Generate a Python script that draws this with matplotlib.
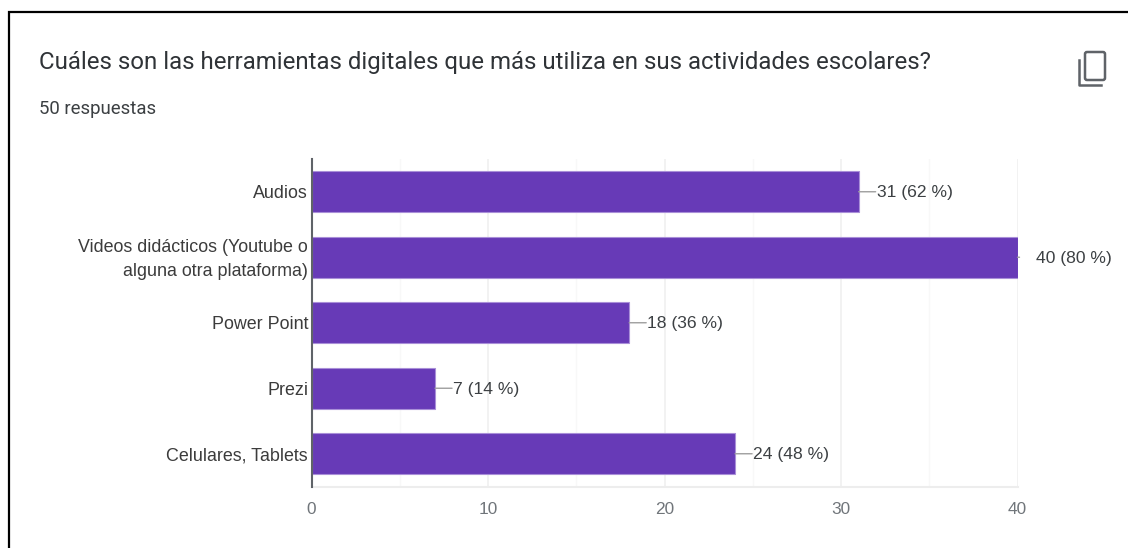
import matplotlib
matplotlib.use("Agg")
import matplotlib.pyplot as plt
from matplotlib.patches import FancyBboxPatch
from matplotlib.lines import Line2D
from matplotlib.transforms import ScaledTranslation

categories = ["Audios", "Videos didácticos (Youtube o\nalguna otra plataforma)", "Power Point", "Prezi", "Celulares, Tablets"]
values = [31, 40, 18, 7, 24]
value_labels = ["31 (62 %)", "40 (80 %)", "18 (36 %)", "7 (14 %)", "24 (48 %)"]
major_ticks = [0, 10, 20, 30, 40]
minor_ticks = [5, 15, 25, 35]
title = "Cuáles son las herramientas digitales que más utiliza en sus actividades escolares?"
subtitle = "50 respuestas"

W, H = 1128, 548
fig = plt.figure(figsize=(W / 100, H / 100), dpi=100, facecolor="white")
ax = fig.add_axes([311.5 / W, 1 - 486.5 / H, (1017.5 - 311.5) / W, (486.5 - 159) / H])

y = list(range(len(categories)))
ax.barh(y, values, height=0.62, color="#673ab7", edgecolor="#a98fd8", linewidth=0.8, zorder=3)
ax.set_xlim(0, 40)
ax.set_ylim(len(categories) - 0.5, -0.5)
ax.set_xticks(major_ticks)
ax.set_xticks(minor_ticks, minor=True)
ax.set_yticks(y, categories, ha="right", multialignment="right", fontsize=12.9, color="#3c3c3c",
              family="Liberation Sans", linespacing=1.52)
ax.tick_params(axis="both", which="both", length=0)
ax.tick_params(axis="y", pad=2.5)
ax.tick_params(axis="x", pad=11.5, labelsize=12.4, labelcolor="#70757a")
for t in ax.get_xticklabels():
    t.set_family("Liberation Sans")
# nudge the two-line label up to where the reference has it
two_line = ax.get_yticklabels()[1]
two_line.set_transform(two_line.get_transform() + ScaledTranslation(0, 3 / 100, fig.dpi_scale_trans))
ax.grid(axis="x", which="major", color="#f0f0f0", linewidth=1.2, zorder=0)
ax.grid(axis="x", which="minor", color="#f8f8f8", linewidth=1.0, zorder=0)
for side in ["top", "right"]:
    ax.spines[side].set_visible(False)
ax.spines["bottom"].set_color("#ededed")
ax.spines["bottom"].set_linewidth(1.5)
ax.spines["left"].set_color("#5f6368")
ax.spines["left"].set_linewidth(1.5)
ax.spines["left"].set_zorder(5)

for i, (v, lab) in enumerate(zip(values, value_labels)):
    length = 2 if v == 40 else 17
    ax.annotate("", xy=(v, i), xytext=(length, 0), textcoords="offset pixels", annotation_clip=False,
                arrowprops=dict(arrowstyle="-", color="#9e9e9e", lw=1, shrinkA=0, shrinkB=0))
    ax.annotate(lab, xy=(v, i), xytext=(18, -1), textcoords="offset pixels", va="center", ha="left",
                fontsize=12.6, color="#3c4043", family="Liberation Sans", annotation_clip=False)

# page-level overlay in pixel coordinates
ov = fig.add_axes([0, 0, 1, 1], facecolor="none")
ov.set_xlim(0, W)
ov.set_ylim(H, 0)
ov.axis("off")
ov.add_line(Line2D([9, 9, W], [H, 12, 12], color="black", lw=1.6, solid_joinstyle="miter"))
ov.text(39, 62, title, fontsize=17.3, family="Roboto", color="#2f3337", va="center", ha="left")
ov.text(39, 109, subtitle, fontsize=13.4, family="Roboto", color="#3c4043", va="center", ha="left")
ov.add_patch(FancyBboxPatch((1085, 52), 20, 28, boxstyle="round,pad=0,rounding_size=2",
                            fc="none", ec="#5f6368", lw=1.8))
ov.add_line(Line2D([1079, 1079, 1101], [60, 85, 85], color="#5f6368", lw=1.8))

fig.savefig("out.png", dpi=100)
